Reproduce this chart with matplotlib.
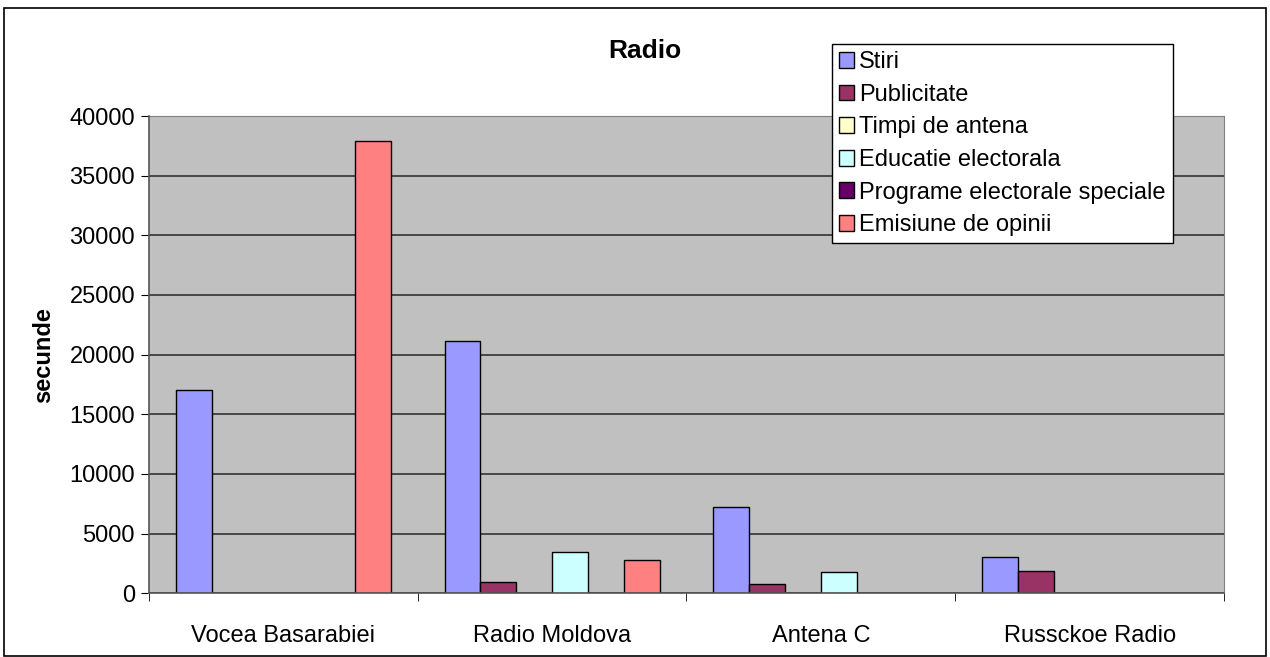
import matplotlib.pyplot as plt
import numpy as np
from matplotlib.patches import Rectangle

plt.rcParams['font.family'] = ['Liberation Sans', 'DejaVu Sans']

stations = ['Vocea Basarabiei', 'Radio Moldova', 'Antena C', 'Russckoe Radio']
series = ['Stiri', 'Publicitate', 'Timpi de antena', 'Educatie electorala',
          'Programe electorale speciale', 'Emisiune de opinii']
stiri = [17050, 21150, 7200, 3050]
publicitate = [0, 950, 750, 1900]
timpi_antena = [0, 0, 0, 0]
educatie = [0, 3500, 1750, 0]
programe = [0, 0, 0, 0]
emisiune = [37900, 2750, 0, 0]
colors = ['#9999FF', '#993366', '#FFFFCC', '#CCFFFF', '#660066', '#FF8080']

values = [stiri, publicitate, timpi_antena, educatie, programe, emisiune]

fig = plt.figure(figsize=(12.7, 6.57), dpi=100)
ax = fig.add_axes([0.1173, 0.097, 0.8465, 0.7264])
ax.set_facecolor('#C0C0C0')

x = np.arange(len(stations))
w = 1 / 7.5
for j, (name, vals) in enumerate(zip(series, values)):
    ax.bar(x + (j - 2.5) * w, vals, width=w, color=colors[j],
           edgecolor='black', linewidth=1, label=name, zorder=3)

ax.set_xlim(-0.5, 3.5)
ax.set_ylim(0, 40000)
ax.set_yticks(np.arange(0, 40001, 5000))
ax.yaxis.grid(True, color='#333333', linewidth=1.2, zorder=1)
ax.set_axisbelow(True)

ax.set_xticks(x)
ax.set_xticklabels(stations, fontsize=17)
ax.tick_params(axis='x', which='major', length=0, pad=23)
ax.set_xticks(np.arange(-0.5, 3.6, 1), minor=True)
ax.tick_params(axis='x', which='minor', length=6, color='black', direction='out')
ax.tick_params(axis='y', labelsize=17, length=6, direction='out', pad=4)

for side in ['top', 'right']:
    ax.spines[side].set_color('#808080')
for side in ['left', 'bottom']:
    ax.spines[side].set_color('#555555')
    ax.spines[side].set_linewidth(1.2)
    ax.spines[side].set_zorder(4)

ax.set_ylabel('secunde', fontsize=17, fontweight='bold', labelpad=10)

fig.text(645 / 1270, 1 - 51 / 657, 'Radio', fontsize=19, fontweight='bold',
         ha='center', va='center')

leg = ax.legend(loc='upper left', bbox_to_anchor=(832 / 1270, 1 - 44 / 657),
                bbox_transform=fig.transFigure, fontsize=17, frameon=True,
                fancybox=False, edgecolor='black', framealpha=1,
                handlelength=0.65, handleheight=0.65, handletextpad=0.2,
                labelspacing=0.45, borderpad=0.3, borderaxespad=0)
leg.get_frame().set_linewidth(1)

fig.patches.append(Rectangle((4 / 1270, 0.001), 1262 / 1270, 1 - 9 / 657,
                             transform=fig.transFigure, fill=False,
                             edgecolor='black', linewidth=1.2))

fig.savefig('out.png', dpi=100)
